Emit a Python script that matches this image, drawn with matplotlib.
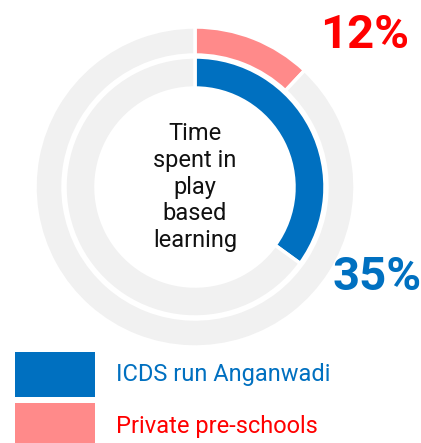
import matplotlib.pyplot as plt
from matplotlib.patches import Rectangle

plt.rcParams['font.family'] = ['Roboto', 'DejaVu Sans']

# data
labels = ['ICDS run Anganwadi', 'Private pre-schools']
values = [35, 12]
colors = ['#0070C0', '#FF8A8A']
text_colors = ['#0070C0', '#FF0000']
track = '#F1F1F1'
center_label = 'Time\nspent in\nplay\nbased\nlearning'

W, H = 421, 443
fig = plt.figure(figsize=(W / 100, H / 100), dpi=100)
ax = fig.add_axes([0, 0, 1, 1])

cx, cy = 195, H - 187
wp = dict(edgecolor='white', linewidth=2.5)

# outer ring: private pre-schools
ax.pie([values[1], 100 - values[1]], colors=[colors[1], track], radius=160,
       center=(cx, cy), startangle=90, counterclock=False,
       wedgeprops=dict(width=28, **wp))
# inner ring: ICDS
ax.pie([values[0], 100 - values[0]], colors=[colors[0], track], radius=130,
       center=(cx, cy), startangle=90, counterclock=False,
       wedgeprops=dict(width=31, **wp))

ax.set_xlim(0, W)
ax.set_ylim(0, H)
ax.set_aspect('auto')
ax.axis('off')

ax.text(cx, cy, center_label, ha='center', va='center', fontsize=17,
        linespacing=1.22, color='#111111')

ax.text(320, H - 48, f'{values[1]}%', fontsize=34, fontweight='bold',
        color=text_colors[1], ha='left', va='baseline')
ax.text(333, H - 290, f'{values[0]}%', fontsize=34, fontweight='bold',
        color=text_colors[0], ha='left', va='baseline')

# legend
for i, (lab, c, tc) in enumerate(zip(labels, colors, text_colors)):
    top = 352 + i * 51
    ax.add_patch(Rectangle((15, H - top - 45), 80, 45, facecolor=c,
                           edgecolor='none', clip_on=False))
    ax.text(116, H - top - 23, lab, fontsize=17, color=tc, ha='left',
            va='center')

fig.savefig('out.png', dpi=100)
